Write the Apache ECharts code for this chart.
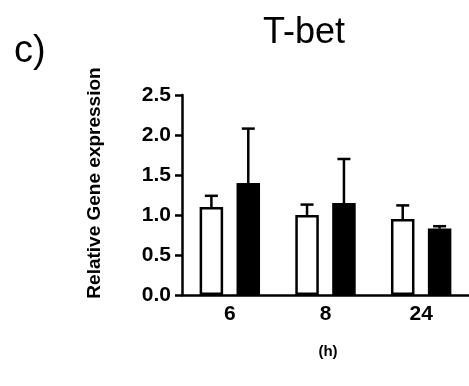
<!DOCTYPE html>
<html>
<head>
<meta charset="utf-8">
<script src="https://cdn.jsdelivr.net/npm/echarts@6/dist/echarts.min.js"></script>
<style>
html,body{margin:0;padding:0;background:#fff;}
#chart{width:469px;height:386px;}
</style>
</head>
<body>
<div id="chart"></div>
<script>
var categories = ['6', '8', '24'];
var controlValues = [1.10, 1.00, 0.95];
var controlErrors = [0.14, 0.13, 0.17];
var treatedValues = [1.40, 1.15, 0.83];
var treatedErrors = [0.68, 0.55, 0.03];
var yTicks = [0, 0.5, 1.0, 1.5, 2.0, 2.5];

var FONT = 'Liberation Sans, Arial, Helvetica, sans-serif';
var BAR_W = 23.5;
var GAP_PCT = 57;
var chart = echarts.init(document.getElementById('chart'));

function errSeries(values, errors, idx) {
  var data = values.map(function (v, i) { return [i, v, v + errors[i]]; });
  return {
    type: 'custom',
    z: 5,
    data: data,
    renderItem: function (params, api) {
      var i = api.value(0);
      var base = api.coord([i, api.value(1)]);
      var top = api.coord([i, api.value(2)]);
      var gap = BAR_W * GAP_PCT / 100;
      var off = (BAR_W + gap) / 2 * (idx === 0 ? -1 : 1);
      var x = base[0] + off;
      var cw = 6.5;
      var st = { stroke: '#000', lineWidth: 2.5 };
      return {
        type: 'group',
        children: [
          { type: 'line', shape: { x1: x, y1: base[1], x2: x, y2: top[1] }, style: st },
          { type: 'line', shape: { x1: x - cw, y1: top[1], x2: x + cw, y2: top[1] }, style: st }
        ]
      };
    }
  };
}

chart.setOption({
  animation: false,
  backgroundColor: '#fff',
  grid: { left: 182, right: -8, top: 95, bottom: 91, containLabel: false },
  graphic: [
    { type: 'text', left: 14, top: 33, style: { text: 'c)', font: '38px ' + FONT, fill: '#000' } },
    { type: 'text', x: 304, y: 33, style: { text: 'T-bet', font: '36px ' + FONT, fill: '#000', textAlign: 'center', textVerticalAlign: 'middle' } },
    { type: 'text', x: 95, y: 183, rotation: Math.PI / 2, style: { text: 'Relative Gene expression', font: 'bold 19px ' + FONT, fill: '#000', textAlign: 'center', textVerticalAlign: 'middle' } },
    { type: 'text', x: 328, y: 352, style: { text: '(h)', font: 'bold 15px ' + FONT, fill: '#000', textAlign: 'center', textVerticalAlign: 'middle' } }
  ],
  xAxis: {
    type: 'category',
    data: categories,
    axisLine: { lineStyle: { color: '#000', width: 2.5 } },
    axisTick: { alignWithLabel: true, length: 7, lineStyle: { color: '#000', width: 2.5 } },
    axisLabel: { color: '#000', fontFamily: FONT, fontWeight: 'bold', fontSize: 21, margin: 9 },
    splitLine: { show: false }
  },
  yAxis: {
    type: 'value',
    min: yTicks[0],
    max: yTicks[yTicks.length - 1],
    interval: 0.5,
    axisLine: { show: true, lineStyle: { color: '#000', width: 2.5 } },
    axisTick: { show: true, length: 7, lineStyle: { color: '#000', width: 2.5 } },
    axisLabel: { color: '#000', fontFamily: FONT, fontWeight: 'bold', fontSize: 21, margin: 11,
      formatter: function (v) { return v.toFixed(1); } },
    splitLine: { show: false }
  },
  series: [
    { type: 'bar', data: controlValues, barWidth: BAR_W, barGap: GAP_PCT + '%',
      itemStyle: { color: '#fff', borderColor: '#000', borderWidth: 2.5 } },
    { type: 'bar', data: treatedValues, barWidth: BAR_W, barGap: GAP_PCT + '%',
      itemStyle: { color: '#000', borderColor: '#000', borderWidth: 2.5 } },
    errSeries(controlValues, controlErrors, 0),
    errSeries(treatedValues, treatedErrors, 1)
  ]
});
</script>
</body>
</html>
